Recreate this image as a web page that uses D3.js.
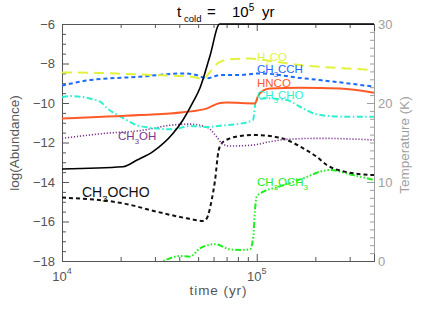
<!DOCTYPE html>
<html><head><meta charset="utf-8">
<script src="https://cdn.jsdelivr.net/npm/d3@7/dist/d3.min.js"></script>
<style>body{margin:0;background:#fff} text{font-family:"Liberation Sans",Arial,Helvetica,sans-serif}</style>
</head><body><svg id="c" width="444" height="311"></svg>
<script>
// ---- data (time in yr, log abundance / temperature K) ----
const abMajor = [-18,-16,-14,-12,-10,-8,-6];
const tempMajor = [0,10,20,30];
const timeMajor = [1e4,1e5];
const timeMinor = [2e4,3e4,4e4,5e4,6e4,7e4,8e4,9e4,2e5,3e5];

const h2co = [[1.00e4,-8.45],[1.568e4,-8.48],[2.83e4,-8.58],[4.54e4,-8.66],[5.30e4,-8.77],[5.75e4,-8.43],[6.33e4,-7.97],[7.12e4,-7.80],[9.24e4,-7.75],[1.17e5,-7.87],[1.668e5,-8.08],[2.68e5,-8.23],[4.0e5,-8.33]];
const ch3cch = [[1e4,-9.12],[1.392e4,-8.84],[2.515e4,-8.67],[4.18e4,-8.50],[4.88e4,-8.58],[5.56e4,-8.75],[6.48e4,-8.58],[8.21e4,-8.58],[1.04e5,-8.50],[1.668e5,-8.73],[2.11e5,-8.84],[4.0e5,-9.17]];
const hnco = [[1e4,-10.78],[2.515e4,-10.61],[4.18e4,-10.47],[5.56e4,-10.27],[6.48e4,-10.0],[7.01e4,-9.98],[9.79e4,-10.02],[1.016e5,-9.65],[1.077e5,-9.37],[1.17e5,-9.27],[1.668e5,-9.23],[2.68e5,-9.26],[4.0e5,-9.48]];
const ch3cho = [[1e4,-9.71],[1.099e4,-9.65],[1.568e4,-9.93],[1.697e4,-10.25],[2.058e4,-10.76],[2.515e4,-11.17],[3.72e4,-11.33],[4.54e4,-11.16],[5.56e4,-11.22],[6.48e4,-11.15],[8.21e4,-11.05],[9.57e4,-10.85],[9.92e4,-9.85],[1.126e5,-9.76],[1.426e5,-9.85],[1.668e5,-10.19],[2.03e5,-10.57],[2.68e5,-10.69],[4.0e5,-10.69]];
const ch3oh = [[1e4,-11.79],[1.697e4,-11.53],[2.515e4,-11.40],[3.72e4,-11.11],[4.54e4,-11.07],[5.54e4,-11.22],[6.23e4,-11.71],[6.61e4,-12.04],[7.29e4,-12.18],[9.57e4,-12.13],[1.17e5,-11.96],[1.426e5,-11.84],[2.11e5,-11.79],[4.0e5,-11.87]];
const ch3ocho = [[1e4,-14.79],[2.058e4,-15.08],[3.06e4,-15.50],[4.37e4,-15.84],[5.32e4,-15.97],[5.54e4,-15.84],[5.87e4,-14.91],[6.11e4,-13.90],[6.35e4,-12.48],[6.61e4,-12.04],[7.29e4,-11.79],[8.21e4,-11.67],[9.57e4,-11.62],[1.17e5,-11.67],[1.426e5,-11.87],[1.729e5,-12.29],[2.03e5,-12.72],[2.29e5,-13.14],[2.90e5,-13.50],[4.0e5,-13.65]];
const ch3och3 = [[2.83e4,-18.35],[3.25e4,-18.04],[4.04e4,-17.75],[4.54e4,-17.78],[5.11e4,-17.36],[6.11e4,-17.15],[7.29e4,-17.41],[8.21e4,-17.44],[9.24e4,-17.41],[9.60e4,-16.77],[9.79e4,-15.42],[1.0e5,-14.74],[1.081e5,-14.49],[1.267e5,-14.27],[1.734e5,-13.81],[2.20e5,-13.43],[2.37e5,-13.39],[3.13e5,-13.65],[4.0e5,-13.90]];
const temperature = [[1e4,11.65],[2.058e4,11.94],[2.43e4,12.78],[2.93e4,13.84],[3.72e4,16.16],[4.18e4,17.85],[4.71e4,20.13],[5.11e4,21.9],[5.75e4,25.95],[6.45e4,30],[4.0e5,30]];

const labels = ["H_2CO","CH_3CCH","HNCO","CH_3CHO","CH_3OH","CH_3OCHO","CH_3OCH_3"];

// ---- layout ----
const svg = d3.select("#c");
const L=62,R=374,T=24,B=261;
const x = d3.scaleLog().domain([1e4,4e5]).range([L,R]);
const y = d3.scaleLinear().domain([-18,-6]).range([B,T]);
const yT = d3.scaleLinear().domain([0,30]).range([B,T]);

const axisCol="#555", rightCol="#a0a0a0";
function styleAxis(g,col,fs){
  g.select(".domain").attr("stroke",col).attr("stroke-width",1);
  g.selectAll(".tick line").attr("stroke",col);
  g.selectAll(".tick text").attr("fill",col).attr("font-size",fs).attr("font-family","Liberation Sans, Arial, sans-serif");
}
// left
const abMinor = d3.range(-18,-5.9,0.5).filter(v=>!abMajor.includes(v));
let g=svg.append("g").attr("transform",`translate(${L},0)`).call(d3.axisLeft(y).tickValues(abMajor).tickSize(-7).tickPadding(7).tickFormat(d3.format("d")));
styleAxis(g,axisCol,13);
g=svg.append("g").attr("transform",`translate(${L},0)`).call(d3.axisLeft(y).tickValues(abMinor).tickSize(-4).tickFormat(""));
styleAxis(g,axisCol,13); g.select(".domain").remove();
// right
const tMinor = d3.range(0,31,1).filter(v=>!tempMajor.includes(v));
g=svg.append("g").attr("transform",`translate(${R},0)`).call(d3.axisRight(yT).tickValues(tempMajor).tickSize(-7).tickPadding(4).tickFormat(d3.format("d")));
styleAxis(g,rightCol,13);
g=svg.append("g").attr("transform",`translate(${R},0)`).call(d3.axisRight(yT).tickValues(tMinor).tickSize(-4).tickFormat(""));
styleAxis(g,rightCol,13); g.select(".domain").remove();
// bottom / top
g=svg.append("g").attr("transform",`translate(0,${B})`).call(d3.axisBottom(x).tickValues(timeMajor).tickSize(-7).tickFormat(""));
styleAxis(g,axisCol,13);
g=svg.append("g").attr("transform",`translate(0,${B})`).call(d3.axisBottom(x).tickValues(timeMinor).tickSize(-4).tickFormat(""));
styleAxis(g,axisCol,13); g.select(".domain").remove();
g=svg.append("g").attr("transform",`translate(0,${T})`).call(d3.axisTop(x).tickValues(timeMajor).tickSize(-7).tickFormat(""));
styleAxis(g,axisCol,13);
g=svg.append("g").attr("transform",`translate(0,${T})`).call(d3.axisTop(x).tickValues(timeMinor).tickSize(-4).tickFormat(""));
styleAxis(g,axisCol,13); g.select(".domain").remove();
// bottom tick labels 10^n
timeMajor.forEach(v=>{
  const e=Math.round(Math.log10(v));
  const t=svg.append("text").attr("x",x(v)).attr("y",281).attr("text-anchor","middle").attr("fill",axisCol).attr("font-size",13);
  t.append("tspan").text("10");
  t.append("tspan").attr("dy",-7).attr("font-size",9).text(e);
});

// axis titles
svg.append("text").attr("transform","translate(19,143) rotate(-90)").attr("text-anchor","middle").attr("fill",axisCol).attr("font-size",13.5).text("log(Abundance)");
svg.append("text").attr("transform","translate(409,145) rotate(-90)").attr("text-anchor","middle").attr("fill",rightCol).attr("font-size",13.5).text("Temperature (K)");
svg.append("text").attr("x",218).attr("y",295).attr("text-anchor","middle").attr("fill",axisCol).attr("font-size",13.5).attr("textLength",57).attr("lengthAdjust","spacing").text("time (yr)");

// title
const tt=svg.append("text").attr("y",16.5).attr("fill","#000").attr("font-size",15);
tt.append("tspan").attr("x",177).text("t");
tt.append("tspan").attr("x",184).attr("dy",5).attr("font-size",9.5).text("cold");
tt.append("tspan").attr("x",207).attr("dy",-5).text("=");
tt.append("tspan").attr("x",232).text("10");
tt.append("tspan").attr("dy",-6).attr("font-size",10).text("5");
tt.append("tspan").attr("x",262).attr("dy",6).text("yr");

// ---- series ----
svg.append("clipPath").attr("id","clip").append("rect").attr("x",L).attr("y",T-2).attr("width",R-L).attr("height",B-T+2);
const plot=svg.append("g").attr("clip-path","url(#clip)");
const line=d3.line().x(d=>x(d[0])).y(d=>y(d[1])).curve(d3.curveMonotoneX);
const lineT=d3.line().x(d=>x(d[0])).y(d=>yT(d[1])).curve(d3.curveMonotoneX);

const series=[
  {d:ch3och3,c:"#22ee22",w:2,da:"6,2,1.5,2,1.5,2,1.5,2"},
  {d:ch3ocho,c:"#111",w:2,da:"4,3"},
  {d:ch3oh,c:"#7a3590",w:1.6,da:"1.2,1.8"},
  {d:ch3cho,c:"#2ef0d0",w:2,da:"6,2.5,1.5,2.5"},
  {d:hnco,c:"#ff5a28",w:2,da:null},
  {d:ch3cch,c:"#1a6bff",w:2,da:"4,3"},
  {d:h2co,c:"#e2f23c",w:2,da:"10,6"}
];
series.forEach(s=>{
  const p=plot.append("path").attr("d",line(s.d)).attr("fill","none").attr("stroke",s.c).attr("stroke-width",s.w);
  if(s.da) p.attr("stroke-dasharray",s.da);
});
plot.append("path").attr("d",lineT(temperature)).attr("fill","none").attr("stroke","#000").attr("stroke-width",1.6);

// ---- species labels ----
const labPos=[[257,60.5,"#e2f23c",11.5],[257,73,"#1a6bff",11.5],[257,87,"#ff5a28",11.5],[257,98.5,"#2ef0d0",11.5],[118,140,"#7a3590",11.5],[82,196.5,"#111",14],[257,186,"#22ee22",11.5]];
labels.forEach((s,i)=>{
  const [lx,ly,c,fs]=labPos[i];
  const t=svg.append("text").attr("x",lx).attr("y",ly).attr("fill",c).attr("font-size",fs);
  const parts=s.split(/(_\d)/).filter(p=>p.length);
  const sub=Math.round(fs*0.36), sfs=fs*0.68;
  let shift=0;
  parts.forEach(p=>{
    if(p[0]==="_"){ t.append("tspan").attr("dy",sub-shift).attr("font-size",sfs).text(p.slice(1)); shift=sub; }
    else { t.append("tspan").attr("dy",-shift).text(p); shift=0; }
  });
});
</script></body></html>
